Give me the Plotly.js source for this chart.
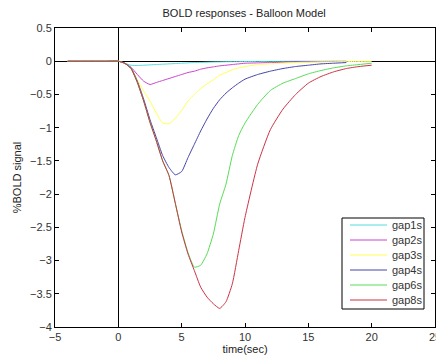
<!DOCTYPE html>
<html>
<head>
<meta charset="utf-8">
<script src="https://cdn.plot.ly/plotly-3.0.1.min.js"></script>
<style>html,body{margin:0;padding:0;background:#fff;}#chart{width:436px;height:358px;}</style>
</head>
<body>
<div id="chart"></div>
<script>
var time = [-4, -3, -2, -1, 0, 0.5, 1, 1.5, 2, 2.5, 3, 3.5, 4, 4.5, 5, 5.5, 6, 6.5, 7, 7.5, 8, 8.5, 9, 9.5, 10, 11, 12, 13, 14, 15, 16, 17, 18, 19, 20];
var gap1s = [0, 0, 0, 0, 0, -0.03, -0.06, -0.065, -0.06, -0.055, -0.05, -0.045, -0.04, -0.035, -0.03, -0.025, -0.02, -0.018, -0.015, -0.012, -0.01, -0.008, -0.007, -0.006, -0.005, -0.003, -0.002, -0.001, 0, 0, 0, 0, 0, null, null];
var gap2s = [0, 0, 0, 0, 0, -0.03, -0.09, -0.2, -0.3, -0.35, -0.32, -0.29, -0.26, -0.23, -0.2, -0.17, -0.15, -0.12, -0.1, -0.085, -0.07, -0.06, -0.05, -0.04, -0.03, -0.025, -0.02, -0.015, -0.01, -0.008, -0.005, -0.003, -0.002, null, null];
var gap3s = [0, 0, 0, 0, 0, -0.03, -0.1, -0.28, -0.45, -0.6, -0.78, -0.93, -0.94, -0.86, -0.74, -0.6, -0.5, -0.41, -0.34, -0.28, -0.21, -0.17, -0.13, -0.1, -0.08, -0.05, -0.04, -0.03, -0.02, -0.015, -0.01, -0.008, -0.005, -0.003, -0.002];
var gap4s = [0, 0, 0, 0, 0, -0.03, -0.1, -0.3, -0.57, -0.88, -1.15, -1.42, -1.6, -1.71, -1.66, -1.45, -1.25, -1.05, -0.87, -0.71, -0.58, -0.48, -0.4, -0.33, -0.27, -0.2, -0.15, -0.11, -0.08, -0.06, -0.04, -0.03, -0.02, null, null];
var gap6s = [0, 0, 0, 0, 0, -0.03, -0.11, -0.32, -0.6, -0.92, -1.2, -1.5, -1.72, -2.14, -2.55, -2.88, -3.1, -3.07, -2.9, -2.6, -2.15, -1.85, -1.42, -1.12, -0.93, -0.65, -0.44, -0.33, -0.26, -0.19, -0.14, -0.1, -0.07, -0.05, -0.03];
var gap8s = [0, 0, 0, 0, 0, -0.03, -0.11, -0.32, -0.6, -0.92, -1.2, -1.5, -1.72, -2.14, -2.57, -2.9, -3.15, -3.4, -3.55, -3.65, -3.72, -3.62, -3.35, -2.85, -2.35, -1.55, -1.03, -0.72, -0.5, -0.33, -0.23, -0.16, -0.11, -0.08, -0.06];
var seriesNames = ['gap1s', 'gap2s', 'gap3s', 'gap4s', 'gap6s', 'gap8s'];
var seriesColors = ['#55dddd', '#cc44cc', '#ffff55', '#4444aa', '#55dd55', '#cc3344'];
var seriesValues = [gap1s, gap2s, gap3s, gap4s, gap6s, gap8s];

var FONT = 'Liberation Sans, Arial, sans-serif';

var traces = seriesValues.map(function (v, i) {
  return {
    x: time, y: v, name: seriesNames[i], type: 'scatter', mode: 'lines',
    line: {color: seriesColors[i], width: 1, shape: 'spline', smoothing: 0.5},
    connectgaps: false, showlegend: false
  };
});

// Plot area in pixels (for the compact MATLAB-style legend box)
var PL = 55, PR = 435, PT = 28, PB = 327;
function px(x) { return (x - PL) / (PR - PL); }
function py(y) { return (PB - y) / (PB - PT); }

var shapes = [{
  type: 'rect', xref: 'paper', yref: 'paper',
  x0: px(342), x1: px(424), y0: py(309), y1: py(218),
  line: {color: '#000', width: 1}, fillcolor: '#fff', layer: 'above'
}];
var annotations = [];
seriesNames.forEach(function (name, i) {
  var rowY = 225 + 15 * i;
  shapes.push({
    type: 'line', xref: 'paper', yref: 'paper',
    x0: px(350), x1: px(387), y0: py(rowY), y1: py(rowY),
    line: {color: seriesColors[i], width: 1}, layer: 'above'
  });
  annotations.push({
    xref: 'paper', yref: 'paper', x: px(390), y: py(rowY),
    xanchor: 'left', yanchor: 'middle', showarrow: false,
    text: name, font: {family: FONT, size: 11, color: '#333'}
  });
});

var axisCommon = {
  showline: true, linecolor: '#000', linewidth: 1, mirror: 'ticks',
  ticks: 'inside', ticklen: 4, tickcolor: '#000', showgrid: false,
  zeroline: true, zerolinecolor: '#000', zerolinewidth: 1,
  ticklabeloverflow: 'allow',
  tickfont: {family: FONT, size: 11, color: '#333'}
};

var layout = {
  width: 436, height: 358,
  margin: {l: PL, r: 436 - PR, t: PT, b: 358 - PB},
  paper_bgcolor: '#fff', plot_bgcolor: '#fff',
  showlegend: false,
  title: {text: 'BOLD responses - Balloon Model', x: 0.56, xanchor: 'center', y: 0.975, yanchor: 'top',
          font: {family: FONT, size: 11, color: '#222'}},
  xaxis: Object.assign({}, axisCommon, {
    range: [-5, 25], tickvals: [-5, 0, 5, 10, 15, 20, 25], autorange: false,
    title: {text: 'time(sec)', standoff: 2, font: {family: FONT, size: 11, color: '#222'}}
  }),
  yaxis: Object.assign({}, axisCommon, {
    range: [-4, 0.5], dtick: 0.5, autorange: false,
    title: {text: '%BOLD signal', standoff: 6, font: {family: FONT, size: 11, color: '#222'}}
  }),
  shapes: shapes,
  annotations: annotations
};

Plotly.newPlot('chart', traces, layout, {staticPlot: true, displayModeBar: false});
</script>
</body>
</html>
